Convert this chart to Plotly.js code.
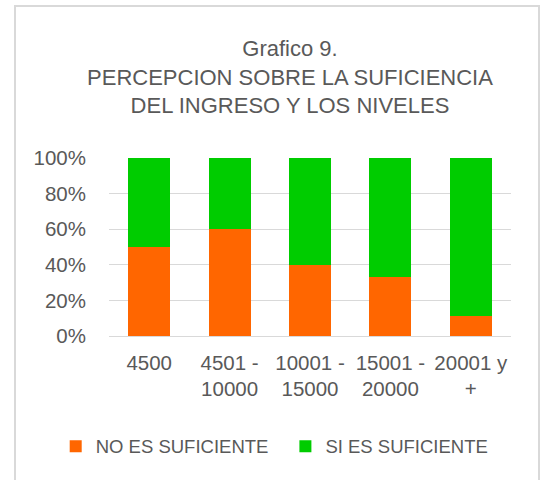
<!DOCTYPE html>
<html>
<head>
<meta charset="utf-8">
<script src="https://cdn.plot.ly/plotly-3.0.1.min.js"></script>
<style>
  html, body { margin: 0; padding: 0; background: #ffffff; }
  #frame { position: absolute; left: 14px; top: 5px; width: 522px; height: 500px;
           border: 2px solid #d9d9d9; background: #ffffff; }
  #chart { position: absolute; left: 0; top: 0; width: 540px; height: 480px; }
</style>
</head>
<body>
<div id="frame"></div>
<div id="chart"></div>
<script>
const categories = ["4500", "4501 -<br>10000", "10001 -<br>15000", "15001 -<br>20000", "20001 y<br>+"];
const noEsSuficiente = [50, 60, 40, 33.3, 11.1];
const siEsSuficiente = [50, 40, 60, 66.7, 88.9];
const seriesNames = ["NO ES SUFICIENTE", "SI ES SUFICIENTE"];
const yTickVals = [0, 20, 40, 60, 80, 100];
const yTickText = ["0%", "20%", "40%", "60%", "80%", "100%"];
const titleText = "Grafico 9.<br>PERCEPCION SOBRE LA SUFICIENCIA<br>DEL INGRESO Y LOS NIVELES";

const FONT = "'Liberation Sans', Arial, sans-serif";
const GREY = "#595959";

const traces = [
  { type: "bar", name: seriesNames[0], x: categories, y: noEsSuficiente,
    marker: { color: "#FF6600" }, hoverinfo: "none", legend: "legend" },
  { type: "bar", name: seriesNames[1], x: categories, y: siEsSuficiente,
    marker: { color: "#00CC00" }, hoverinfo: "none", legend: "legend2" }
];

const legendFont = { family: FONT, size: 18.5, color: GREY };

const layout = {
  width: 540, height: 480,
  paper_bgcolor: "rgba(0,0,0,0)", plot_bgcolor: "rgba(0,0,0,0)",
  margin: { l: 109, r: 29, t: 158, b: 144 },
  barmode: "stack",
  bargap: 0.478,
  font: { family: FONT, color: GREY },
  title: {
    text: titleText,
    font: { family: FONT, size: 22, color: GREY },
    xref: "container", x: 0.537, xanchor: "center",
    yref: "container", y: 1 - 56/480, yanchor: "top"
  },
  xaxis: {
    type: "category",
    tickfont: { family: FONT, size: 20.5, color: GREY },
    tickangle: 0,
    showgrid: false, showline: false, zeroline: false,
    ticks: "", ticklabelstandoff: 12, automargin: false
  },
  yaxis: {
    range: [0, 100],
    tickvals: yTickVals, ticktext: yTickText,
    tickfont: { family: FONT, size: 20.5, color: GREY },
    showgrid: true, gridcolor: "#d9d9d9", gridwidth: 1,
    zeroline: true, zerolinecolor: "#d9d9d9", zerolinewidth: 1,
    showline: false, ticks: "", ticklabelstandoff: 22, automargin: false
  },
  showlegend: true,
  legend: {
    orientation: "h",
    xref: "container", x: 55.7/540, xanchor: "left",
    yref: "container", y: 1 - 446.7/480, yanchor: "middle",
    font: legendFont, bgcolor: "rgba(0,0,0,0)"
  },
  legend2: {
    orientation: "h",
    xref: "container", x: 285.4/540, xanchor: "left",
    yref: "container", y: 1 - 446.7/480, yanchor: "middle",
    font: legendFont, bgcolor: "rgba(0,0,0,0)"
  }
};

Plotly.newPlot("chart", traces, layout, { displayModeBar: false, staticPlot: true });
</script>
</body>
</html>
